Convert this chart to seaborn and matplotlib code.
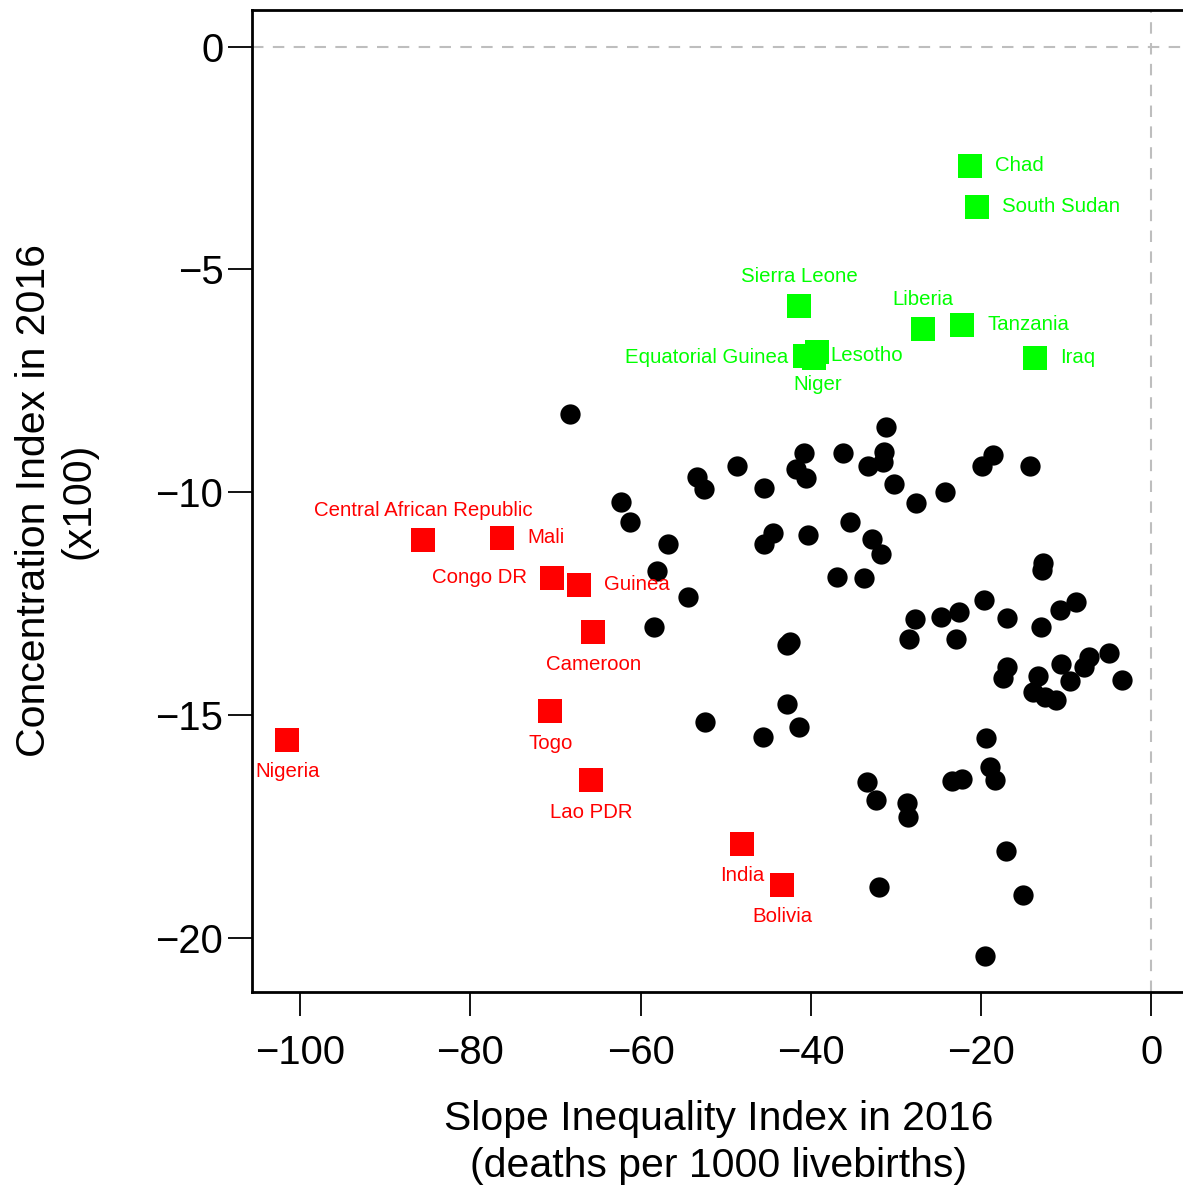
import numpy as np
import pandas as pd
import matplotlib
matplotlib.use("Agg")
import matplotlib.pyplot as plt
import seaborn as sns

# ---------------- data ----------------
# other countries (black circles): Slope Inequality Index, Concentration Index (x100)
other_sii = [-68.29, -31.22, -40.78, -36.19, -31.42, -31.59, -33.29, -41.79, -40.58, -48.64,
             -53.38, -52.55, -45.47, -30.24, -27.66, -24.25, -62.34, -61.30, -56.84, -58.05,
             -54.43, -58.40, -44.49, -45.54, -40.32, -35.41, -32.77, -31.73, -36.97, -33.74,
             -27.74, -24.72, -22.64, -18.65, -19.94, -14.23, -12.78, -12.89, -19.64, -16.93,
             -28.44, -22.96, -12.98, -10.75, -8.90, -17.01, -17.48, -10.59, -7.30, -7.93,
             -4.96, -3.46, -9.57, -13.29, -13.88, -12.45, -11.18, -42.84, -42.45, -42.84,
             -52.44, -45.63, -41.36, -33.45, -32.35, -31.97, -19.44, -18.97, -18.41, -23.46,
             -22.22, -28.75, -28.56, -17.09, -15.13, -19.52]
other_ci = [-8.24, -8.54, -9.11, -9.11, -9.10, -9.32, -9.42, -9.47, -9.67, -9.42,
            -9.66, -9.93, -9.91, -9.81, -10.25, -9.99, -10.21, -10.67, -11.15, -11.77,
            -12.36, -13.02, -10.92, -11.15, -10.96, -10.67, -11.04, -11.39, -11.89, -11.92,
            -12.85, -12.79, -12.69, -9.17, -9.41, -9.42, -11.59, -11.74, -12.42, -12.81,
            -13.29, -13.29, -13.03, -12.63, -12.45, -13.91, -14.16, -13.86, -13.69, -13.91,
            -13.61, -14.20, -14.23, -14.12, -14.47, -14.60, -14.66, -13.43, -13.35, -14.74,
            -15.16, -15.48, -15.27, -16.51, -16.90, -18.85, -15.52, -16.17, -16.46, -16.47,
            -16.44, -16.96, -17.28, -18.05, -19.04, -20.40]

# highlighted countries, red
red_names = ["Central African Republic", "Mali", "Congo DR", "Guinea", "Cameroon",
             "Nigeria", "Togo", "Lao PDR", "India", "Bolivia"]
red_sii = [-85.52, -76.24, -70.37, -67.20, -65.55, -101.49, -70.60, -65.79, -48.06, -43.36]
red_ci = [-11.06, -11.03, -11.93, -12.07, -13.14, -15.56, -14.91, -16.46, -17.88, -18.80]
red_pos = [3, 4, 2, 4, 1, 1, 1, 1, 1, 1]   # label side: 1 below, 2 left, 3 above, 4 right

# highlighted countries, green
green_names = ["Chad", "South Sudan", "Sierra Leone", "Liberia", "Tanzania", "Iraq",
               "Equatorial Guinea", "Lesotho", "Niger"]
green_sii = [-21.28, -20.46, -41.36, -26.80, -22.22, -13.65, -39.67, -40.66, -39.25]
green_ci = [-2.67, -3.61, -5.81, -6.34, -6.25, -6.99, -6.98, -6.95, -6.86]
green_pos = [4, 4, 3, 3, 4, 4, 2, 4, 1]

x_ticks = [-100, -80, -60, -40, -20, 0]
y_ticks = [0, -5, -10, -15, -20]

# ---------------- style ----------------
sns.set_theme(style="ticks")
plt.rcParams['font.family'] = ['Liberation Sans', 'DejaVu Sans']

W, H = 1183, 1189
fig = plt.figure(figsize=(W / 100, H / 100), dpi=100)
ax = fig.add_axes([252 / W, 1 - 992 / H, 1 - 252 / W, (992 - 10) / H])

df_other = pd.DataFrame({"sii": other_sii, "ci": other_ci})
df_red = pd.DataFrame({"sii": red_sii, "ci": red_ci, "name": red_names, "pos": red_pos})
df_green = pd.DataFrame({"sii": green_sii, "ci": green_ci, "name": green_names, "pos": green_pos})

grey = "#BEBEBE"
ax.axhline(0, color=grey, lw=1.5, ls=(0, (5.5, 4.5)), zorder=1)
ax.axvline(0, color=grey, lw=1.5, ls=(0, (5.5, 4.5)), zorder=1)

sns.scatterplot(data=df_other, x="sii", y="ci", ax=ax, color="black", marker="o",
                s=213, linewidth=0, legend=False, zorder=3)
sns.scatterplot(data=df_red, x="sii", y="ci", ax=ax, color="#FF0000", marker="s",
                s=275, linewidth=0, legend=False, zorder=4)
sns.scatterplot(data=df_green, x="sii", y="ci", ax=ax, color="#00FF00", marker="s",
                s=275, linewidth=0, legend=False, zorder=4)

# labels
def place(df, color):
    for _, r in df.iterrows():
        p = r["pos"]
        if p == 1:
            off, ha = (0, -26.9), "center"
        elif p == 3:
            off, ha = (0, 17.1), "center"
        elif p == 2:
            off, ha = (-18, -3.6), "right"
        else:
            off, ha = (18, -3.6), "left"
        ax.annotate(r["name"], (r["sii"], r["ci"]), xytext=off, textcoords="offset points",
                    ha=ha, va="baseline", color=color, fontsize=14.7, zorder=5)

place(df_red, "#FF0000")
place(df_green, "#00FF00")

ax.set_xlim(-105.64, 3.70)
ax.set_ylim(-21.21, 0.819)
ax.set_xticks(x_ticks)
ax.set_yticks(y_ticks)
ax.set_xticklabels([f"{t}".replace("-", "\u2212") for t in x_ticks])
ax.set_yticklabels([f"{t}".replace("-", "\u2212") for t in y_ticks])
ax.tick_params(axis="both", direction="out", length=17, width=1.3, color="black",
               labelsize=28.8, labelcolor="black")
ax.tick_params(axis="x", pad=13)
ax.tick_params(axis="y", pad=3.6)
for side in ["left", "bottom", "top"]:
    ax.spines[side].set_visible(True)
    ax.spines[side].set_linewidth(2.0)
    ax.spines[side].set_color("black")
ax.spines["right"].set_visible(False)
ax.set_xlabel("")
ax.set_ylabel("")

# axis titles
fig.text(719 / W, 1 - 1119 / H, "Slope Inequality Index in 2016", ha="center", va="center",
         fontsize=29.5, color="black")
fig.text(719 / W, 1 - 1166 / H, "(deaths per 1000 livebirths)", ha="center", va="center",
         fontsize=29.5, color="black")
fig.text(34 / W, 1 - 501 / H, "Concentration Index in 2016", ha="center", va="center",
         rotation=90, fontsize=29.5, color="black")
fig.text(78 / W, 1 - 501 / H, "(x100)", ha="center", va="center",
         rotation=90, fontsize=29.5, color="black")

fig.savefig("out.png", dpi=100, facecolor="white")
